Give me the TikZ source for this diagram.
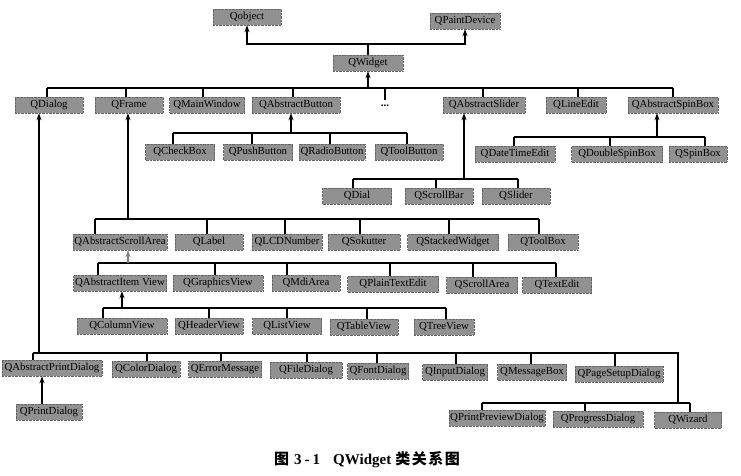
\documentclass[tikz,border=0pt]{standalone}
\usepackage{fontspec}
\setmainfont{Liberation Serif}
\newfontfamily\cjkfont{Noto Sans CJK SC}
\usetikzlibrary{arrows.meta}
\definecolor{boxgray}{RGB}{145,145,145}
\definecolor{edgegray}{RGB}{100,100,100}
\newcommand\clsnode[5]{\node[cls,minimum width=#4pt] (#1) at (#2,#3) {#5};}
\newcommand\stubto[3]{\draw[ln] (#1,0 |- #2) -- (#1,0 |- #3.north);}
\begin{document}
\begin{tikzpicture}[x=1pt,y=-1pt,
  cls/.style={fill=boxgray, draw=edgegray, densely dotted, line width=0.4pt,
    minimum height=16pt, inner sep=0pt, text height=7.6pt, text depth=2.3pt,
    font=\fontsize{10.8}{12}\selectfont},
  ln/.style={line width=1.1pt, draw=black},
  arr/.style={ln, -{Stealth[length=7pt,width=5pt]}}]
\useasboundingbox (0,0) rectangle (741,476);
% bus levels
\coordinate (b0) at (0,44);
\coordinate (b1) at (0,88);
\coordinate (b2) at (0,133);
\coordinate (b2r) at (0,137);
\coordinate (b3) at (0,179);
\coordinate (b4) at (0,219);
\coordinate (b5) at (0,263);
\coordinate (b6) at (0,308);
\coordinate (b7) at (0,353);
\coordinate (b8) at (0,403);
% row 0
\clsnode{Qobject}{247}{17}{68}{Qobject}
\clsnode{QPaintDevice}{465}{21}{70}{QPaintDevice}
\clsnode{QWidget}{368}{63}{70}{QWidget}
% row 1
\clsnode{QDialog}{49}{105}{68}{QDialog}
\clsnode{QFrame}{129}{105}{68}{QFrame}
\clsnode{QMainWindow}{207}{105}{75}{QMainWindow}
\clsnode{QAbstractButton}{296}{105}{88}{QAbstractButton}
\node[inner sep=0pt, minimum height=12pt, font=\fontsize{11}{12}\selectfont\bfseries] (dots) at (385,106) {...};
\clsnode{QAbstractSlider}{484}{105}{82}{QAbstractSlider}
\clsnode{QLineEdit}{576}{105}{60}{QLineEdit}
\clsnode{QAbstractSpinBox}{673}{105}{90}{QAbstractSpinBox}
% row 2
\clsnode{QCheckBox}{180}{152}{69}{QCheckBox}
\clsnode{QPushButton}{258}{152}{69}{QPushButton}
\clsnode{QRadioButton}{332}{152}{66}{QRadioButton}
\clsnode{QToolButton}{409}{152}{68}{QToolButton}
\clsnode{QDateTimeEdit}{515}{154}{80}{QDateTimeEdit}
\clsnode{QDoubleSpinBox}{617}{154}{91}{QDoubleSpinBox}
\clsnode{QSpinBox}{698}{154}{58}{QSpinBox}
% row 3
\clsnode{QDial}{357}{196}{69}{QDial}
\clsnode{QScrollBar}{439}{196}{68}{QScrollBar}
\clsnode{QSlider}{516}{196}{68}{QSlider}
% row 4
\clsnode{QAbstractScrollArea}{120}{242}{94}{QAbstractScrollArea}
\clsnode{QLabel}{209}{242}{68}{QLabel}
\clsnode{QLCDNumber}{287}{242}{70}{QLCDNumber}
\clsnode{QSokutter}{364}{242}{72}{QSokutter}
\clsnode{QStackedWidget}{453}{242}{91}{QStackedWidget}
\clsnode{QToolBox}{543}{242}{70}{QToolBox}
% row 5
\clsnode{QAbstractItemView}{120}{283}{93}{QAbstractItem View}
\clsnode{QGraphicsView}{218}{283}{90}{QGraphicsView}
\clsnode{QMdiArea}{306}{283}{68}{QMdiArea}
\clsnode{QPlainTextEdit}{393}{284}{91}{QPlainTextEdit}
\clsnode{QScrollArea}{482}{285}{71}{QScrollArea}
\clsnode{QTextEdit}{557}{285}{69}{QTextEdit}
% row 6
\clsnode{QColumnView}{122}{326}{90}{QColumnView}
\clsnode{QHeaderView}{209}{326}{68}{QHeaderView}
\clsnode{QListView}{287}{326}{69}{QListView}
\clsnode{QTableView}{364}{327}{68}{QTableView}
\clsnode{QTreeView}{444}{327}{60}{QTreeView}
% row 7
\clsnode{QAbstractPrintDialog}{52}{368}{100}{QAbstractPrintDialog}
\clsnode{QColorDialog}{146}{369}{68}{QColorDialog}
\clsnode{QErrorMessage}{225}{369}{73}{QErrorMessage}
\clsnode{QFileDialog}{306}{370}{72}{QFileDialog}
\clsnode{QFontDialog}{378}{371}{61}{QFontDialog}
\clsnode{QInputDialog}{455}{372}{65}{QInputDialog}
\clsnode{QMessageBox}{532}{372}{69}{QMessageBox}
\clsnode{QPageSetupDialog}{619}{374}{88}{QPageSetupDialog}
% row 8
\clsnode{QPrintDialog}{49}{412}{66}{QPrintDialog}
\clsnode{QPrintPreviewDialog}{497}{418}{96}{QPrintPreviewDialog}
\clsnode{QProgressDialog}{598}{419}{90}{QProgressDialog}
\clsnode{QWizard}{688}{420}{67}{QWizard}
% top inheritance
\draw[ln] (QWidget.north) -- (QWidget.north |- b0);
\draw[arr] (QWidget.north |- b0) -| (Qobject.south);
\draw[arr] (QWidget.north |- b0) -| (QPaintDevice.south);
% row 1 bus
\draw[ln] (47,0 |- b1) -- (673,0 |- b1);
\draw[arr] (QWidget.south |- b1) -- (QWidget.south);
\stubto{47}{b1}{QDialog}
\stubto{126}{b1}{QFrame}
\stubto{203}{b1}{QMainWindow}
\stubto{293}{b1}{QAbstractButton}
\draw[ln] (385,0 |- b1) -- (385,0 |- dots.north);
\stubto{483}{b1}{QAbstractSlider}
\stubto{578}{b1}{QLineEdit}
\stubto{673}{b1}{QAbstractSpinBox}
% QAbstractButton children
\draw[ln] (173,0 |- b2) -- (407,0 |- b2);
\draw[arr] (291,0 |- b2) -- (291,0 |- QAbstractButton.south);
\stubto{173}{b2}{QCheckBox}
\stubto{252}{b2}{QPushButton}
\stubto{330}{b2}{QRadioButton}
\stubto{407}{b2}{QToolButton}
% QAbstractSpinBox children
\draw[ln] (514,0 |- b2r) -- (705,0 |- b2r);
\draw[arr] (657,0 |- b2r) -- (657,0 |- QAbstractSpinBox.south);
\stubto{514}{b2r}{QDateTimeEdit}
\stubto{610}{b2r}{QDoubleSpinBox}
\stubto{705}{b2r}{QSpinBox}
% QAbstractSlider children
\draw[ln] (353,0 |- b3) -- (518,0 |- b3);
\draw[arr] (464,0 |- b3) -- (464,0 |- QAbstractSlider.south);
\stubto{353}{b3}{QDial}
\stubto{436}{b3}{QScrollBar}
\stubto{518}{b3}{QSlider}
% QFrame children
\draw[ln] (95,0 |- b4) -- (539,0 |- b4);
\draw[arr] (128,0 |- b4) -- (128,0 |- QFrame.south);
\stubto{95}{b4}{QAbstractScrollArea}
\stubto{207}{b4}{QLabel}
\stubto{285}{b4}{QLCDNumber}
\stubto{360}{b4}{QSokutter}
\stubto{449}{b4}{QStackedWidget}
\stubto{539}{b4}{QToolBox}
% QAbstractScrollArea children
\draw[ln] (98,0 |- b5) -- (556,0 |- b5);
\draw[arr, draw=gray] (128,0 |- b5) -- (128,0 |- QAbstractScrollArea.south);
\stubto{98}{b5}{QAbstractItemView}
\stubto{215}{b5}{QGraphicsView}
\stubto{287}{b5}{QMdiArea}
\stubto{390}{b5}{QPlainTextEdit}
\stubto{473}{b5}{QScrollArea}
\stubto{556}{b5}{QTextEdit}
% QAbstractItemView children
\draw[ln] (103,0 |- b6) -- (446,0 |- b6);
\draw[arr] (122,0 |- b6) -- (122,0 |- QAbstractItemView.south);
\stubto{103}{b6}{QColumnView}
\stubto{209}{b6}{QHeaderView}
\stubto{287}{b6}{QListView}
\stubto{367}{b6}{QTableView}
\stubto{446}{b6}{QTreeView}
% QDialog children
\draw[ln] (33,0 |- b7) -- (678,0 |- b7) -- (678,0 |- b8);
\draw[arr] (39,0 |- b7) -- (39,0 |- QDialog.south);
\stubto{33}{b7}{QAbstractPrintDialog}
\stubto{147}{b7}{QColorDialog}
\stubto{221}{b7}{QErrorMessage}
\stubto{307}{b7}{QFileDialog}
\stubto{377}{b7}{QFontDialog}
\stubto{456}{b7}{QInputDialog}
\stubto{531}{b7}{QMessageBox}
\stubto{615}{b7}{QPageSetupDialog}
\draw[ln] (482,0 |- b8) -- (690,0 |- b8);
\stubto{482}{b8}{QPrintPreviewDialog}
\stubto{585}{b8}{QProgressDialog}
\stubto{690}{b8}{QWizard}
\draw[arr] (42,0 |- QPrintDialog.north) -- (42,0 |- QAbstractPrintDialog.south);
% caption
\node[inner sep=0pt, font=\fontsize{15}{17}\selectfont\bfseries] (caption) at (367,460)
  {{\cjkfont 图}\hspace{5pt}3\hspace{3pt}-\hspace{3pt}1\hspace{13pt}QWidget\hspace{4pt}{\cjkfont 类\hspace{1.5pt}关\hspace{1.5pt}系\hspace{1.5pt}图}};
\end{tikzpicture}
\end{document}
